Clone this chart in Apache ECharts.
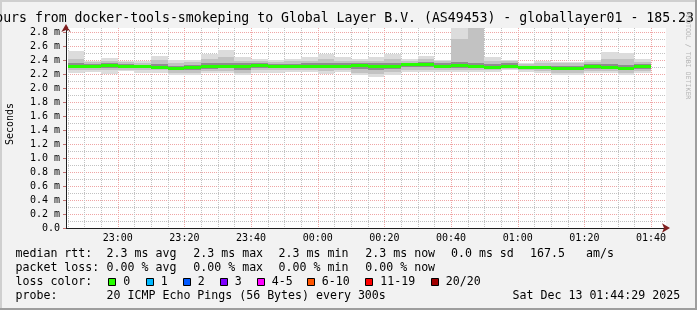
<!DOCTYPE html>
<html><head><meta charset="utf-8">
<script src="https://cdn.jsdelivr.net/npm/echarts@6/dist/echarts.min.js"></script>
<style>html,body{margin:0;padding:0;background:#f2f2f2;}#c{width:697px;height:310px;}</style>
</head><body><div id="c"></div>
<script>
// ---------------- data ----------------
const titleText = 'Last 3 Hours from docker-tools-smokeping to Global Layer B.V. (AS49453) - globallayer01 - 185.23';
const axisStart = '22:44:29';
const axisEnd = '01:44:29';
const binMinutes = 5;
const minorGridMinutes = 5;
const majorGridMinutes = 20;
// end time of each 5-minute bin
const binEnds = ['22:50','22:55','23:00','23:05','23:10','23:15','23:20','23:25','23:30','23:35',
  '23:40','23:45','23:50','23:55','00:00','00:05','00:10','00:15','00:20','00:25',
  '00:30','00:35','00:40','00:45','00:50','00:55','01:00','01:05','01:10','01:15',
  '01:20','01:25','01:30','01:35','01:40'];
// RTT distribution per bin (ms)
const rttMin = [2.22,2.23,2.20,2.24,2.22,2.22,2.19,2.19,2.21,2.21,2.18,2.21,2.22,2.23,2.23,2.20,2.23,2.18,2.16,2.19,2.23,2.23,2.23,2.23,2.23,2.23,2.25,2.23,2.21,2.18,2.19,2.21,2.21,2.18,2.21];
const rttP10 = [2.26,2.26,2.25,2.26,2.25,2.25,2.22,2.22,2.24,2.24,2.22,2.25,2.25,2.26,2.25,2.24,2.26,2.22,2.20,2.23,2.26,2.26,2.26,2.26,2.26,2.26,2.27,2.26,2.24,2.21,2.22,2.24,2.24,2.21,2.24];
const rttP25 = [2.29,2.29,2.29,2.29,2.28,2.27,2.25,2.25,2.27,2.28,2.26,2.29,2.28,2.28,2.28,2.28,2.28,2.27,2.26,2.27,2.30,2.30,2.29,2.29,2.28,2.28,2.29,2.28,2.27,2.25,2.25,2.27,2.27,2.25,2.27];
const rttMedian = [2.31,2.31,2.33,2.31,2.31,2.30,2.29,2.30,2.31,2.31,2.31,2.33,2.31,2.31,2.31,2.31,2.31,2.33,2.31,2.31,2.34,2.34,2.32,2.33,2.31,2.30,2.32,2.30,2.30,2.29,2.29,2.31,2.30,2.29,2.31];
const rttP75 = [2.35,2.34,2.36,2.34,2.33,2.34,2.32,2.33,2.35,2.36,2.35,2.36,2.34,2.34,2.35,2.35,2.35,2.36,2.35,2.35,2.36,2.37,2.35,2.37,2.35,2.34,2.35,2.32,2.32,2.32,2.32,2.34,2.34,2.33,2.34];
const rttP90 = [2.42,2.37,2.39,2.37,2.36,2.40,2.36,2.37,2.42,2.44,2.39,2.39,2.37,2.38,2.39,2.42,2.39,2.39,2.39,2.41,2.39,2.41,2.38,2.70,2.85,2.39,2.38,2.34,2.35,2.35,2.35,2.37,2.42,2.41,2.37];
const rttMax = [2.53,2.39,2.43,2.39,2.39,2.46,2.40,2.40,2.49,2.54,2.44,2.41,2.40,2.42,2.44,2.49,2.44,2.42,2.44,2.48,2.41,2.45,2.40,2.90,2.90,2.44,2.40,2.35,2.38,2.37,2.37,2.40,2.51,2.50,2.41];
const yMax = 2.857142857;
const statsRows = [
  ['median rtt:', '2.3 ms avg', '2.3 ms max', '2.3 ms min', '2.3 ms now', '0.0 ms sd', '167.5', 'am/s'],
  ['packet loss:', '0.00 % avg', '0.00 % max', '0.00 % min', '0.00 % now']
];
const lossLabels = ['0','1','2','3','4-5','6-10','11-19','20/20'];
const lossColors = ['#26ff00','#00b8ff','#0059ff','#7e00ff','#ff00ff','#ff5500','#ff0000','#a10000'];
const probeText = ['probe:', '20 ICMP Echo Pings (56 Bytes) every 300s', 'Sat Dec 13 01:44:29 2025'];

// ---------------- helpers ----------------
function toMin(s) {
  const p = s.split(':').map(Number);
  let m = p[0] * 60 + p[1] + (p[2] || 0) / 60;
  if (p[0] < 12) m += 1440;
  return m;
}
function fmtTime(v) {
  const m = Math.round(v) % 1440;
  const h = Math.floor(m / 60), mm = m % 60;
  return String(h).padStart(2, '0') + ':' + String(mm).padStart(2, '0');
}
const xMin = toMin(axisStart), xMax = toMin(axisEnd);
const MONO = '"DejaVu Sans Mono", monospace';
const MAJOR = '#efa5a5';
const MINOR = '#c2c2c2';
const ARROW = '#801f1f';
const AXIS = '#1f1f1f';

const seriesData = binEnds.map((t, i) => [toMin(t), rttMin[i], rttP10[i], rttP25[i], rttMedian[i], rttP75[i], rttP90[i], rttMax[i]]);
const gridTimes = [];
for (let m = Math.ceil(xMin / minorGridMinutes) * minorGridMinutes; m < xMax; m += minorGridMinutes) gridTimes.push([m]);

// ---------------- decorations ----------------
const graphics = [];
graphics.push({type:'rect', shape:{x:0,y:0,width:697,height:2}, style:{fill:'#cfcfcf'}, silent:true});
graphics.push({type:'rect', shape:{x:0,y:0,width:2,height:310}, style:{fill:'#cfcfcf'}, silent:true});
graphics.push({type:'rect', shape:{x:0,y:308,width:697,height:2}, style:{fill:'#9e9e9e'}, silent:true});
graphics.push({type:'rect', shape:{x:695,y:0,width:2,height:310}, style:{fill:'#9e9e9e'}, silent:true});
graphics.push({type:'text', x:-68.3, y:19, style:{text:titleText, font:'13.2px ' + MONO, fill:'#000', textVerticalAlign:'middle', textAlign:'left'}, silent:true});
graphics.push({type:'text', x:10, y:124, rotation:Math.PI/2, style:{text:'Seconds', font:'10px ' + MONO, fill:'#000', textAlign:'center', textVerticalAlign:'middle'}, silent:true});
graphics.push({type:'text', x:688, y:12, rotation:-Math.PI/2, style:{text:'RRDTOOL / TOBI OETIKER', font:'6.6px ' + MONO, fill:'#b4b4b4', textAlign:'left', textVerticalAlign:'middle'}, silent:true});
const statX = [15.5, 106.6, 193.3, 278.6, 365.3, 451, 530, 586];
statsRows.forEach((row, r) => {
  row.forEach((txt, k) => {
    graphics.push({type:'text', x:statX[k], y:254.3 + r * 14, style:{text:txt, font:'11.6px ' + MONO, fill:'#000', textAlign:'left', textVerticalAlign:'middle'}, silent:true});
  });
});
graphics.push({type:'text', x:15.5, y:282.3, style:{text:'loss color:', font:'11.6px ' + MONO, fill:'#000', textAlign:'left', textVerticalAlign:'middle'}, silent:true});
const boxX = [108, 145.5, 182.5, 219.5, 256.5, 306.5, 365, 430.5];
lossLabels.forEach((lab, k) => {
  graphics.push({type:'rect', shape:{x:Math.round(boxX[k]) + 0.5, y:278.5, width:7, height:7}, style:{fill:lossColors[k], stroke:'#000', lineWidth:1}, silent:true});
  graphics.push({type:'text', x:boxX[k] + 15.3, y:282.3, style:{text:lab, font:'11.6px ' + MONO, fill:'#000', textAlign:'left', textVerticalAlign:'middle'}, silent:true});
});
const probeX = [15.5, 106.6, 512.6];
probeText.forEach((txt, k) => {
  graphics.push({type:'text', x:probeX[k], y:296.3, style:{text:txt, font:'11.6px ' + MONO, fill:'#000', textAlign:'left', textVerticalAlign:'middle'}, silent:true});
});

// ---------------- chart ----------------
const chart = echarts.init(document.getElementById('c'), null, {renderer:'canvas', width:697, height:310});
const option = {
  backgroundColor: '#f2f2f2',
  animation: false,
  grid: {left:66, right:31, top:28, bottom:82, show:true, backgroundColor:'#ffffff', borderWidth:0, outerBoundsMode:'none'},
  xAxis: [
    {
      type:'value', min:xMin, max:xMax, position:'bottom',
      axisLine:{show:true, onZero:false, lineStyle:{color:ARROW, width:1}, symbol:['none','arrow'], symbolSize:[7,8], symbolOffset:[0,4]},
      axisTick:{show:false}, axisLabel:{show:false}, splitLine:{show:false}
    },
    {
      type:'value', min:xMin, max:xMax, position:'bottom', splitNumber:9, minInterval:20, maxInterval:20,
      axisLine:{show:true, onZero:false, lineStyle:{color:AXIS, width:1}},
      axisTick:{show:false},
      axisLabel:{show:true, showMinLabel:false, showMaxLabel:false, formatter:fmtTime, fontFamily:MONO, fontSize:10, color:'#000', margin:5},
      splitLine:{show:false}
    }
  ],
  yAxis: [
    {
      type:'value', min:0, max:yMax, interval:0.1, position:'left',
      axisLine:{show:true, onZero:false, lineStyle:{color:ARROW, width:1}, symbol:['none','arrow'], symbolSize:[7,8], symbolOffset:[0,4]},
      axisTick:{show:false}, axisLabel:{show:false},
      splitLine:{show:true, showMinLine:false, showMaxLine:false, lineStyle:{color:MINOR, type:[1,1], width:1}}
    },
    {
      type:'value', min:0, max:yMax, interval:0.2, position:'left',
      axisLine:{show:true, onZero:false, lineStyle:{color:AXIS, width:1}},
      axisTick:{show:true, length:3, lineStyle:{color:'#c07070'}},
      axisLabel:{show:true, showMaxLabel:false, fontFamily:MONO, fontSize:10, color:'#000', margin:6,
        formatter: v => (v === 0 ? '0.0' : v.toFixed(1) + ' m')},
      splitLine:{show:true, showMinLine:false, showMaxLine:false, lineStyle:{color:MAJOR, type:[1,1], width:1}}
    }
  ],
  series: [
    {
      type:'custom', xAxisIndex:1, yAxisIndex:1, silent:true, z:1,
      data: gridTimes,
      encode: {x:0},
      renderItem: function (params, api) {
        const t = api.value(0);
        const x = Math.round(api.coord([t, 0])[0]) + 0.5;
        const cs = params.coordSys;
        const isMajor = Math.round(t) % majorGridMinutes === 0;
        return {type:'line', shape:{x1:x, y1:cs.y, x2:x, y2:cs.y + cs.height},
          style:{stroke: isMajor ? MAJOR : MINOR, lineWidth:1, lineDash:[1,1]}};
      }
    },
    {
      type:'custom', xAxisIndex:1, yAxisIndex:1, z:2,
      data: seriesData,
      encode: {x:0, y:[1,2,3,4,5,6,7]},
      renderItem: function (params, api) {
        const end = api.value(0), start = end - binMinutes;
        const x0 = Math.round(api.coord([start, 0])[0]);
        const x1 = Math.round(api.coord([end, 0])[0]);
        const yOf = v => api.coord([end, v])[1];
        const cs = params.coordSys;
        const clipR = {x:cs.x, y:cs.y, width:cs.width, height:cs.height};
        const layers = [[1, 7, '#dcdcdc'], [2, 6, '#c2c2c2'], [3, 5, '#8e8e8e']];
        const children = [];
        layers.forEach(([a, b, col]) => {
          const yt = Math.round(yOf(api.value(b))), yb = Math.round(yOf(api.value(a)));
          const r = echarts.graphic.clipRectByRect({x:x0, y:yt, width:x1 - x0, height:yb - yt}, clipR);
          if (r) children.push({type:'rect', shape:r, style:{fill:col}});
        });
        const ym = Math.round(yOf(api.value(4)));
        children.push({type:'rect', shape:{x:x0, y:ym - 1, width:x1 - x0, height:3}, style:{fill:'#26ff00'}});
        return {type:'group', children};
      }
    }
  ],
  graphic: graphics
};
chart.setOption(option);
</script>
</body></html>
